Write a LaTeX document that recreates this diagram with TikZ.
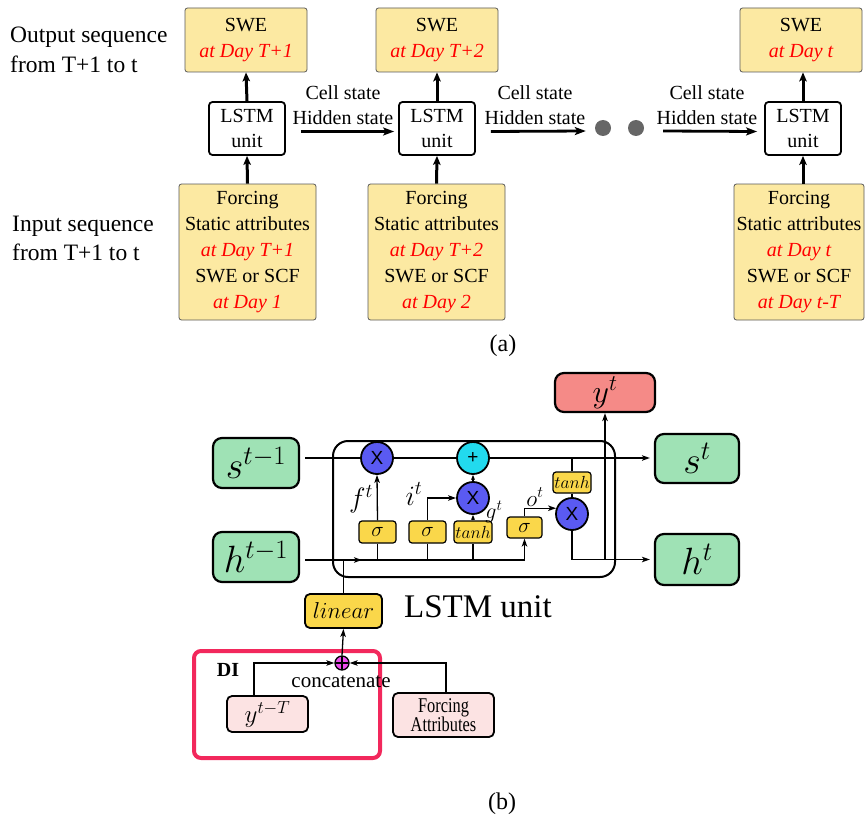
\RequirePackage{fix-cm}
\documentclass[tikz,border=0pt]{standalone}
\usepackage[no-math]{fontspec}
\setmainfont{Liberation Serif}
\newfontfamily\sansx{Liberation Sans}
\newfontfamily\narrowfont[FakeStretch=0.78]{Liberation Serif}
\usetikzlibrary{arrows.meta}
\definecolor{ayellow}{HTML}{FCE9A2}
\definecolor{sgreen}{HTML}{9FE2B5}
\definecolor{ysalmon}{HTML}{F58A87}
\definecolor{gyellow}{HTML}{FAD74A}
\definecolor{cblue}{HTML}{5A5AF2}
\definecolor{ccyan}{HTML}{22DAEE}
\definecolor{cmag}{HTML}{EE4EEE}
\definecolor{ppink}{HTML}{FCE3E3}
\definecolor{dired}{HTML}{F2285C}
\definecolor{dotgray}{HTML}{666666}
\newcommand{\fsz}[2]{\fontsize{#1pt}{#2pt}\selectfont}
\newcommand{\rd}[1]{{\color{red}\itshape #1}}
\begin{document}
\begin{tikzpicture}[x=1pt,y=-1pt,
  abox/.style={draw=black!65, line width=0.8pt, fill=ayellow, rounded corners=2.5pt, align=center, inner sep=0pt, font=\fsz{20}{26}},
  lbox/.style={draw=black, line width=1.8pt, fill=white, rounded corners=3.5pt, align=center, inner sep=0pt, minimum width=76pt, minimum height=53pt, font=\fsz{20}{25}},
  aarrow/.style={line width=3pt, -{Stealth[length=9pt,width=7.5pt,inset=2pt]}},
  harrow/.style={line width=2.8pt, -{Stealth[length=11pt,width=8pt,inset=2.5pt]}},
  atext/.style={align=center, inner sep=0pt, font=\fsz{20}{25}},
  side/.style={align=left, inner sep=0pt, anchor=west, font=\fsz{23.5}{29.5}},
  dotn/.style={circle, fill=dotgray, minimum size=16pt, inner sep=0pt},
  gbox/.style={draw, line width=2.2pt, fill=sgreen, rounded corners=9pt, inner sep=0pt, font=\fsz{38}{38}},
  gate/.style={draw, line width=1.2pt, fill=gyellow, rounded corners=3pt, inner sep=0pt, minimum height=22pt},
  opc/.style={circle, draw, line width=1.8pt, fill=cblue, minimum size=32pt, inner sep=0pt, font=\sansx\fsz{19}{19}},
  pbox/.style={draw, line width=1.8pt, fill=ppink, rounded corners=5pt, inner sep=0pt, align=center},
  ln/.style={line width=1.3pt},
  lna/.style={line width=1.3pt, -{Stealth[length=8pt,width=5.5pt,inset=2pt]}},
  lnb/.style={line width=1.3pt, -{Stealth[length=5pt,width=4pt,inset=1.5pt]}},
  lab/.style={inner sep=0pt}
]
\useasboundingbox (0,0) rectangle (865,824);
% ---------------- (a) ----------------
\node[abox, minimum width=122pt, minimum height=64pt] (o1) at (246,40) {SWE\\\rd{at Day T+1}};
\node[abox, minimum width=122pt, minimum height=64pt] (o2) at (437,40) {SWE\\\rd{at Day T+2}};
\node[abox, minimum width=122pt, minimum height=64pt] (o3) at (801,40) {SWE\\\rd{at Day t}};
\node[lbox] (l1) at (247,128.5) {LSTM\\unit};
\node[lbox] (l2) at (437,128.5) {LSTM\\unit};
\node[lbox] (l3) at (803,128.5) {LSTM\\unit};
\node[abox, minimum width=137pt, minimum height=136pt] (i1) at (247.5,252) {Forcing\\Static attributes\\\rd{at Day T+1}\\SWE or SCF\\\rd{at Day 1}};
\node[abox, minimum width=137pt, minimum height=136pt] (i2) at (436.5,252) {Forcing\\Static attributes\\\rd{at Day T+2}\\SWE or SCF\\\rd{at Day 2}};
\node[abox, minimum width=130pt, minimum height=136pt] (i3) at (799,252) {Forcing\\Static attributes\\\rd{at Day t}\\SWE or SCF\\\rd{at Day t-T}};
\draw[aarrow] (l1.north) -- (o1.south);
\draw[aarrow] (l2.north) -- (o2.south);
\draw[aarrow] (l3.north) -- (l3.north |- o3.south);
\draw[aarrow] (i1.north) -- (l1.south);
\draw[aarrow] (i2.north) -- (l2.south);
\draw[aarrow] (i3.north -| l3.south) -- (l3.south);
\node[dotn] (d1) at (603,128) {};
\node[dotn] (d2) at (636,128) {};
\draw[harrow] ([xshift=15pt,yshift=-3pt]l1.east) -- ([xshift=-4pt,yshift=-3pt]l2.west);
\draw[harrow] ([xshift=15pt,yshift=-3pt]l2.east) -- ([xshift=-9pt,yshift=-3pt]d1.west);
\draw[harrow] ([xshift=19pt,yshift=-3pt]d2.east) -- ([xshift=-7pt,yshift=-3pt]l3.west);
\node[atext] (lab1) at (343,105) {Cell state\\Hidden state};
\node[atext] (lab2) at (535,105) {Cell state\\Hidden state};
\node[atext] (lab3) at (707,105) {Cell state\\Hidden state};
\node[side] (outlab) at (10,50) {Output sequence\\from T+1 to t};
\node[side] (inlab) at (12,238.5) {Input sequence\\from T+1 to t};
\node[lab, font=\fsz{24}{24}] (capa) at (503,346) {(a)};
% ---------------- (b) ----------------
\node[draw, line width=2pt, rounded corners=15pt, minimum width=282pt, minimum height=136pt, inner sep=0pt] (cell) at (474,509) {};
\node[gbox, minimum width=86pt, minimum height=50pt] (s1) at (256,463) {$s^{t-1}$};
\node[gbox, minimum width=86pt, minimum height=50pt] (h1) at (256,557) {$h^{t-1}$};
\node[gbox, minimum width=84pt, minimum height=49pt] (s2) at (697,458.5) {$s^{t}$};
\node[gbox, minimum width=84pt, minimum height=51pt] (h2) at (697,559.5) {$h^{t}$};
\node[gbox, fill=ysalmon, minimum width=100pt, minimum height=39pt, font=\fsz{32}{32}] (yt) at (605,392.5) {$y^{t}$};
\node[opc] (fx) at (377,458) {X};
\node[opc, fill=ccyan] (plus) at (473,458) {+};
\node[opc] (ix) at (473,498) {X};
\node[opc] (ox) at (572,514) {X};
\node[gate, minimum width=37pt, font=\fsz{21}{21}] (sg1) at (377.5,532) {$\sigma$};
\node[gate, minimum width=37pt, font=\fsz{21}{21}] (sg2) at (427.5,532) {$\sigma$};
\node[gate, minimum width=38pt, font=\fsz{17.5}{17.5}] (th2) at (473,532) {$tanh$};
\node[gate, minimum width=35pt, minimum height=21pt, font=\fsz{21}{21}] (sg3) at (524.5,527.5) {$\sigma$};
\node[gate, minimum width=38pt, minimum height=21pt, font=\fsz{17.5}{17.5}] (th1) at (572,482.5) {$tanh$};
\coordinate (cs0) at (305,458);
\coordinate (hs0) at (305,560);
\coordinate (harr) at (362,560);
% cell state path
\draw[ln] (cs0) -- (fx.west);
\draw[ln] (fx.east) -- (plus.west);
\draw[lna] (plus.east) -- ([xshift=-4pt]s2.west |- plus.east);
\draw[ln] (th1.north) -- (th1.north |- plus.east);
% hidden path
\draw[lna] (hs0) -| (sg3.south);
\draw[lna] (hs0) -- (harr);
\draw[ln] (sg1.south) -- (sg1.south |- hs0);
\draw[ln] (sg2.south) -- (sg2.south |- hs0);
\draw[ln] (th2.south) -- (th2.south |- hs0);
\draw[lna] (sg1.north) -- (fx.south);
\draw[lna] (sg2.north) |- (ix.west);
\draw[lnb] (th2.north) -- (ix.south);
\draw[lnb] (ix.north) -- (plus.south);
\draw[lna] (sg3.north) |- (ox.160);
\draw[ln] (th1.south) -- (ox.north);
\draw[lna] (ox.south) |- ([xshift=-4pt]h2.west);
\draw[lna] (yt.south |- h2.west) -- (yt.south);
% gate labels
\node[lab, font=\fsz{28}{28}] (flab) at (361,499) {$f^{t}$};
\node[lab, font=\fsz{28}{28}] (ilab) at (414,494) {$i^{t}$};
\node[lab, font=\fsz{22}{22}] (glab) at (494,512) {$g^{t}$};
\node[lab, font=\fsz{23}{23}] (olab) at (535,497) {$o^{t}$};
\node[lab, font=\fsz{33}{33}] (unitlab) at (478,607) {LSTM unit};
% input side
\node[gate, minimum width=77pt, minimum height=34pt, line width=1.8pt, rounded corners=5pt, font=\fsz{23}{23}] (lin) at (343.5,611) {$linear$};
\draw[ln] (lin.north) -- (lin.north |- hs0);
\node[draw, line width=4pt, draw=dired, rounded corners=7pt, minimum width=186pt, minimum height=107pt, inner sep=0pt] (di) at (287,704.5) {};
\node[lab, font=\bfseries\fsz{20}{20}] (dilab) at (228,670) {DI};
\node[circle, draw, line width=1.3pt, fill=cmag, minimum size=14pt, inner sep=0pt,
  path picture={\draw[line width=1.3pt] (path picture bounding box.north) -- (path picture bounding box.south) (path picture bounding box.west) -- (path picture bounding box.east);}] (cc) at (342,663) {};
\draw[lna] (cc.north) -- (lin.south);
\node[lab, font=\fsz{21}{21}] (cclab) at (341,682) {concatenate};
\node[pbox, minimum width=81pt, minimum height=36pt, font=\fsz{25}{25}] (yT) at (267.5,714) {$y^{t-T}$};
\node[pbox, minimum width=101pt, minimum height=44pt, font=\narrowfont\fsz{21}{19.5}] (fa) at (443.5,715) {Forcing\\Attributes};
\draw[lna] ([xshift=-13.5pt]yT.north) |- (cc.west);
\draw[lna] ([xshift=2.5pt]fa.north) |- (cc.east);
\node[lab, font=\fsz{24}{24}] (capb) at (502,804) {(b)};
\end{tikzpicture}
\end{document}
